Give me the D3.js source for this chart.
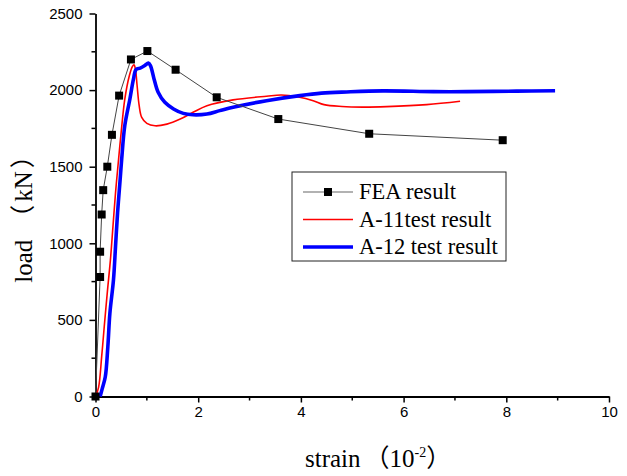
<!DOCTYPE html>
<html>
<head>
<meta charset="utf-8">
<script src="https://cdn.jsdelivr.net/npm/d3@7"></script>
<style>
  body { margin: 0; background: #fff; }
  text { fill: #000; }
</style>
</head>
<body>
<div id="chart"></div>
<script>
// FEA result (strain in 10^-2, load in kN)
const feaStrain = [0, 0.09, 0.09, 0.12, 0.15, 0.23, 0.32, 0.46, 0.69, 1.01, 1.56, 2.36, 3.56, 5.33, 7.93]
const feaLoad = [0, 780, 945, 1188, 1347, 1500, 1708, 1964, 2200, 2255, 2133, 1953, 1811, 1715, 1673]

// A-11 test result
const a11Strain = [0, 0.06, 0.12, 0.17, 0.23, 0.29, 0.34, 0.39, 0.45, 0.50, 0.57, 0.66, 0.72, 0.75, 0.78, 0.81, 0.85, 0.90, 1.0, 1.16, 1.39, 1.65, 1.90, 2.17, 2.68, 3.33, 3.62, 3.95, 4.24, 4.45, 4.8, 5.2, 5.67, 6.45, 7.10]
const a11Load = [0, 60, 260, 455, 680, 890, 1110, 1330, 1550, 1725, 1940, 2095, 2155, 2165, 2130, 2030, 1900, 1822, 1783, 1767, 1778, 1811, 1855, 1898, 1936, 1960, 1968, 1955, 1931, 1905, 1893, 1889, 1892, 1905, 1927]

// A-12 test result
const a12Strain = [0.09, 0.13, 0.19, 0.24, 0.28, 0.35, 0.39, 0.43, 0.48, 0.51, 0.57, 0.67, 0.74, 0.79, 0.87, 0.96, 1.03, 1.07, 1.14, 1.22, 1.35, 1.52, 1.71, 1.90, 2.17, 2.42, 2.68, 3.33, 3.98, 4.4, 4.89, 5.6, 6.58, 7.23, 8.2, 8.95]
const a12Load = [0, 50, 127, 324, 543, 761, 980, 1200, 1417, 1549, 1767, 1942, 2073, 2135, 2143, 2160, 2176, 2160, 2073, 1986, 1920, 1877, 1848, 1839, 1844, 1866, 1888, 1931, 1964, 1980, 1988, 1995, 1990, 1990, 1993, 1996]

const xTicks = [0, 2, 4, 6, 8, 10]
const yTicks = [0, 500, 1000, 1500, 2000, 2500]
const legendNames = ['FEA result', 'A-11test result', 'A-12 test result']

const zip = (xs, ys) => xs.map((x, i) => [x, ys[i]])

const dimensions = { width: 627, height: 476, left: 95.5, right: 609, top: 13.5, bottom: 396.5 }
const serif = '"Liberation Serif", "Times New Roman", serif'
const cjk = '"Noto Sans CJK SC", sans-serif'

const svg = d3.select('#chart')
  .append('svg')
  .attr('width', dimensions.width)
  .attr('height', dimensions.height)

const x = d3.scaleLinear().domain([0, 10]).range([dimensions.left, dimensions.right])
const y = d3.scaleLinear().domain([0, 2500]).range([dimensions.bottom, dimensions.top])

//axes with minor ticks
const minorX = d3.range(1, 10, 2)
const minorY = d3.range(250, 2500, 500)

const xAxisG = svg.append('g').attr('transform', `translate(0,${dimensions.bottom})`)
xAxisG.call(d3.axisBottom(x).tickValues(xTicks).tickFormat(d3.format('d')).tickSize(6).tickSizeOuter(0).tickPadding(4))
xAxisG.append('g').selectAll('line').data(minorX).join('line')
  .attr('x1', d => x(d)).attr('x2', d => x(d)).attr('y1', 0).attr('y2', 4)
  .attr('stroke', '#000').attr('stroke-width', 1.5)

const yAxisG = svg.append('g').attr('transform', `translate(${dimensions.left},0)`)
yAxisG.call(d3.axisLeft(y).tickValues(yTicks).tickFormat(d3.format('d')).tickSize(6).tickSizeOuter(0).tickPadding(7))
yAxisG.append('g').selectAll('line').data(minorY).join('line')
  .attr('y1', d => y(d)).attr('y2', d => y(d)).attr('x1', 0).attr('x2', -4)
  .attr('stroke', '#000').attr('stroke-width', 1.5)

svg.selectAll('.domain').attr('stroke', '#000').attr('stroke-width', 1.8)
svg.selectAll('.tick line').attr('stroke', '#000').attr('stroke-width', 1.5)
svg.selectAll('.tick text')
  .attr('font-family', '"Liberation Sans", Arial, sans-serif')
  .attr('font-size', 15)
  .attr('fill', '#222')

//axis titles, full-width brackets from the CJK font
const xTitle = svg.append('text')
  .attr('x', 305)
  .attr('y', 467)
  .attr('font-family', serif)
  .attr('font-size', 25)
xTitle.append('tspan').text('strain')
xTitle.append('tspan').attr('dx', 4).attr('font-family', cjk).text('（')
xTitle.append('tspan').text('10')
xTitle.append('tspan').attr('dy', -10).attr('font-size', 14).text('-2')
xTitle.append('tspan').attr('dy', 10).attr('font-family', cjk).text('）')

const yTitle = svg.append('text')
  .attr('transform', `translate(32,213) rotate(-90)`)
  .attr('text-anchor', 'middle')
  .attr('font-family', serif)
  .attr('font-size', 25)
yTitle.append('tspan').text('load')
yTitle.append('tspan').attr('dx', 10).attr('font-family', cjk).text('（')
yTitle.append('tspan').attr('dx', 3).text('kN')
yTitle.append('tspan').attr('dx', 3).attr('font-family', cjk).text('）')

//lines
const line = d3.line().x(d => x(d[0])).y(d => y(d[1]))
const smooth = d3.line().x(d => x(d[0])).y(d => y(d[1])).curve(d3.curveCatmullRom.alpha(0.5))

const plot = svg.append('g')

plot.append('path')
  .datum(zip(a11Strain, a11Load))
  .attr('d', smooth)
  .attr('fill', 'none')
  .attr('stroke', '#ff0000')
  .attr('stroke-width', 1.6)

plot.append('path')
  .datum(zip(a12Strain, a12Load))
  .attr('d', smooth)
  .attr('fill', 'none')
  .attr('stroke', '#0000ff')
  .attr('stroke-width', 3.6)

plot.append('path')
  .datum(zip(feaStrain, feaLoad))
  .attr('d', line)
  .attr('fill', 'none')
  .attr('stroke', '#444')
  .attr('stroke-width', 1)

plot.selectAll('rect.marker')
  .data(zip(feaStrain, feaLoad))
  .join('rect')
  .attr('class', 'marker')
  .attr('x', d => x(d[0]) - 4)
  .attr('y', d => y(d[1]) - 4)
  .attr('width', 8)
  .attr('height', 8)
  .attr('fill', '#000')

//legend
const legend = svg.append('g').attr('transform', 'translate(292,172)')
legend.append('rect')
  .attr('width', 214).attr('height', 89)
  .attr('fill', '#fff').attr('stroke', '#222').attr('stroke-width', 1)

const legendStyles = [
  { color: '#666', width: 1.2, marker: true },
  { color: '#ff0000', width: 1.6, marker: false },
  { color: '#0000ff', width: 3.6, marker: false }
]
const rows = legend.selectAll('g.row')
  .data(legendNames)
  .join('g')
  .attr('class', 'row')
  .attr('transform', (d, i) => `translate(0,${20 + i * 27.5})`)

rows.append('line')
  .attr('x1', 11).attr('x2', 61)
  .attr('stroke', (d, i) => legendStyles[i].color)
  .attr('stroke-width', (d, i) => legendStyles[i].width)

rows.filter((d, i) => legendStyles[i].marker)
  .append('rect')
  .attr('x', 32).attr('y', -4).attr('width', 8).attr('height', 8).attr('fill', '#000')

rows.append('text')
  .attr('x', 67)
  .attr('y', 7)
  .attr('font-family', serif)
  .attr('font-size', 22.5)
  .text(d => d)
</script>
</body>
</html>
